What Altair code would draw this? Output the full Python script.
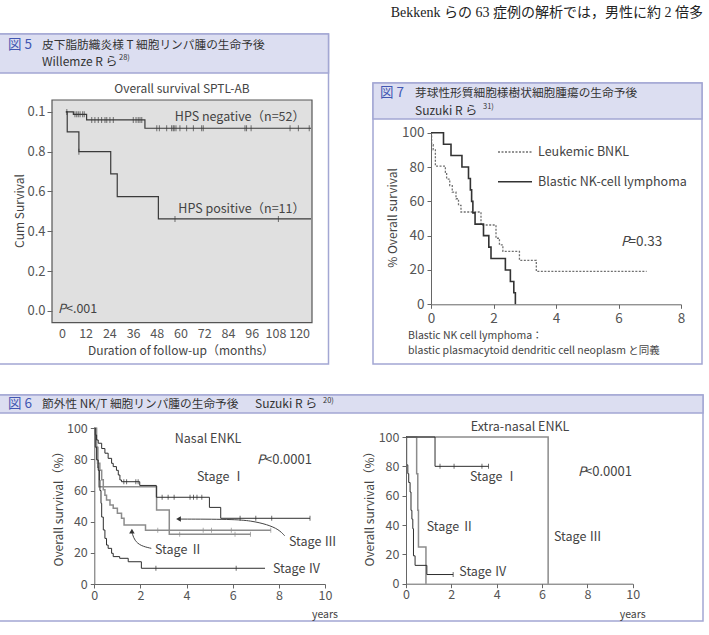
import altair as alt
import pandas as pd

FONT = "Noto Sans CJK JP"
SERIF = "Liberation Serif, Noto Sans CJK JP"
INK = "#444444"
LAB = "#555555"
AXIS = "#666666"
BLACK = "#2e2e2e"
GRAY = "#8c8c8c"
BORDER = "#a3a7d3"
BAND = "#dcdef1"
BLUE = "#4257b2"
HEAD = "#333333"

# ---- Fig 5: SPTL-AB, overall survival (months, cumulative survival) ----
hps_neg_t = [2, 5.8, 12.5, 42, 126]
hps_neg_s = [1.0, 0.988, 0.96, 0.918, 0.918]
hps_neg_cens = [2.5, 6.6, 7.5, 8.3, 9.2, 10.5, 11.3, 15.1, 16.7, 18.4, 20.1, 21.8,
                22.7, 24.3, 26, 36.1, 37.5, 38.6, 39.5, 40.4, 48, 49.3, 53, 55.5,
                56.3, 56.8, 57.7, 59.7, 63.1, 66.5, 70.7, 71.5, 92.6, 93.4, 95.7,
                115.4, 119.6, 125.1]
hps_pos_t = [2, 2.7, 8.6, 24.7, 28, 48.8, 126]
hps_pos_s = [1.0, 0.90, 0.80, 0.688, 0.574, 0.462, 0.462]
hps_pos_cens = [8.6, 57.2, 109.5]
f5_ticks_x = [0, 12, 24, 36, 48, 60, 72, 84, 96, 108, 120]
f5_ticks_y = [0, 0.2, 0.4, 0.6, 0.8, 1.0]

# ---- Fig 7: BPDCN (years, % overall survival) ----
leuk_t = [0, 0.02, 0.07, 0.14, 0.46, 0.5, 0.6, 0.68, 0.8, 0.88, 0.96, 1.6, 2.08,
          2.19, 2.3, 2.83, 3.37, 6.9]
leuk_s = [100, 93, 90, 80.5, 76.9, 73, 69.2, 65.4, 61.5, 57.7, 53.8, 46.2, 38.5,
          34.6, 30.8, 25.6, 19.2, 19.2]
bnk_t = [0, 0.40, 0.64, 0.99, 1.2, 1.26, 1.3, 1.34, 1.41, 1.68, 1.85, 1.92, 2.38,
         2.54, 2.65, 2.7]
bnk_s = [100, 93.3, 86.7, 80, 73.3, 66.7, 60, 53.3, 46.7, 40, 33.3, 26.7, 20,
         13.3, 6.7, 0]
f7_ticks_x = [0, 2, 4, 6, 8]
pct_ticks = [0, 20, 40, 60, 80, 100]

# ---- Fig 6 left: nasal ENKL by stage (years, %) ----
n1_t = [0, 0.04, 0.1, 0.17, 0.32, 0.46, 0.6, 0.75, 0.82, 0.96, 1.04, 1.11, 1.18,
        1.97, 2.69, 4.99, 5.48, 9.35]
n1_s = [100, 95.7, 92.5, 90.4, 87, 84, 80.7, 77.5, 75.4, 73, 70, 66.8, 65.7,
        63.3, 55.7, 49.2, 42.2, 42.2]
n1_cens = [1.28, 1.4, 1.8, 1.9, 2.94, 3.2, 3.46, 4.15, 4.3, 4.45, 4.66, 6.32, 7.0,
           7.69, 9.35]
n2_t = [0, 0.06, 0.14, 0.24, 0.32, 0.39, 0.46, 0.53, 0.68, 0.82, 1.0, 1.18, 1.29,
        2.22, 7.65]
n2_s = [100, 88, 77.5, 73, 67, 60.5, 57, 54, 50.7, 48.6, 45.4, 42.2, 37.9, 34.5,
        34.5]
n2_cens = [2.75, 4.72, 5.08, 5.94, 7.65]
n3_t = [0, 0.1, 0.15, 0.2, 2.7, 3.25, 6.77]
n3_s = [100, 87.5, 75, 62.5, 47.5, 32, 32]
n3_cens = [3.7, 6.1, 6.77]
n4_t = [0, 0.04, 0.1, 0.17, 0.22, 0.245, 0.29, 0.32, 0.39, 0.46, 0.53, 0.6, 0.75,
        0.82, 1.1, 1.47, 2.04, 7.4]
n4_s = [100, 88, 79.7, 73, 66.8, 60, 51.8, 43, 34.7, 29.3, 25, 22.9, 19.7, 17.6,
        16.5, 14.3, 10.1, 10.1]
n4_cens = [2.67, 6.15]
# arrows pointing from stage labels to their curves
arrow3_t = [8.25, 8.0, 7.5, 6.8, 6.0, 3.65]
arrow3_s = [31, 35, 38.2, 40.6, 41.6, 41.7]
arrow2_t = [2.47, 2.0, 1.75, 1.65, 1.63]
arrow2_s = [22.9, 24.5, 28, 32, 34]
f6_ticks_x = [0, 2, 4, 6, 8, 10]

# ---- Fig 6 right: extra-nasal ENKL by stage (years, %) ----
e1_t = [0, 1.28, 3.64]
e1_s = [100, 80, 80]
e1_cens = [1.5, 2.12, 3.35, 3.64]
e2_t = [0, 0.47, 0.52, 0.55, 0.88]
e2_s = [100, 75, 50, 25, 0]
e3_t = [0, 6.27]
e3_s = [100, 0]
e4_t = [0, 0.03, 0.08, 0.12, 0.18, 0.22, 0.26, 0.3, 0.33, 0.4, 0.92, 2.08]
e4_s = [100, 81, 75, 69, 62.5, 50, 44, 37.5, 19, 12.5, 6.25, 6.25]
e4_cens = [2.08]

ONE = pd.DataFrame({"k": [0]})


def surv_at(ts, ss, x):
    v = ss[0]
    for t, s in zip(ts, ss):
        if t <= x:
            v = s
    return v


def curves(*items):
    frames = []
    for name, ts, ss in items:
        frames.append(pd.DataFrame({"t": ts, "s": ss, "curve": name, "i": range(len(ts))}))
    return pd.concat(frames, ignore_index=True)


def censored(*items):
    frames = []
    for name, cens, ts, ss in items:
        frames.append(pd.DataFrame({"t": cens, "s": [surv_at(ts, ss, c) for c in cens],
                                    "curve": name}))
    return pd.concat(frames, ignore_index=True)


def axis(orient, offset, values, tick=4, pad=3, size=12, domain=True, expr=None):
    kw = dict(orient=orient, offset=offset, values=values, tickSize=tick,
              ticks=tick > 0, labelPadding=pad, labelFontSize=size, domain=domain,
              grid=False, title=None, labelFlush=False, labelOverlap=False,
              labelColor=LAB, tickColor=AXIS, domainColor=AXIS, labelFont=FONT,
              tickWidth=1, domainWidth=1, zindex=2)
    if expr:
        kw["labelExpr"] = expr
    return alt.Axis(**kw)


def encodings(xdom, xrng, ydom, yrng, xaxis, yaxis):
    X = alt.X("t:Q", scale=alt.Scale(domain=xdom, range=xrng, nice=False, zero=False), axis=xaxis)
    Y = alt.Y("s:Q", scale=alt.Scale(domain=ydom, range=yrng, nice=False, zero=False), axis=yaxis)
    return X, Y


def steps(df, X, Y, color, width, dash=None):
    kw = dict(interpolate="step-after", color=color, strokeWidth=width)
    if dash:
        kw["strokeDash"] = dash
    return alt.Chart(df).mark_line(**kw).encode(x=X, y=Y, detail="curve:N", order="i:Q")


def ticks(df, X, Y, color, size=6):
    return alt.Chart(df).mark_tick(orient="vertical", color=color, size=size,
                                   thickness=1).encode(x=X, y=Y)


def box(x1, y1, x2, y2, fill, stroke=None, sw=1.0):
    kw = dict(fill=fill, strokeWidth=sw)
    if stroke:
        kw["stroke"] = stroke
    return alt.Chart(ONE).mark_rect(**kw).encode(
        x=alt.value(x1), x2=alt.value(x2), y=alt.value(y1), y2=alt.value(y2))


def label(txt, x, y, size=12, align="left", color=INK, angle=0, style="normal",
          font=FONT, baseline="middle"):
    return alt.Chart(ONE).mark_text(text=txt, align=align, baseline=baseline,
                                    fontSize=size, color=color, angle=angle,
                                    fontStyle=style, font=font).encode(
        x=alt.value(x), y=alt.value(y))


def legend_line(x1, x2, y, color, width, dash=None):
    kw = dict(color=color, strokeWidth=width)
    if dash:
        kw["strokeDash"] = dash
    return alt.Chart(ONE).mark_rule(**kw).encode(
        x=alt.value(x1), x2=alt.value(x2), y=alt.value(y))


# ---------------- Fig 5 panel ----------------
X5, Y5 = encodings([-5, 126.5], [52, 312], [-0.06, 1.06], [322.7, 100],
                   axis("bottom", -312.3, f5_ticks_x, tick=0, pad=5, size=12.5, domain=False),
                   axis("left", -52, f5_ticks_y, tick=5, pad=2, size=13, domain=False,
                        expr="datum.value == 1 ? '0.1' : format(datum.value, '.1f')"))
frame5 = pd.DataFrame({"t": [-5], "t2": [126.5], "s": [-0.06], "s2": [1.06]})
fig5 = alt.layer(
    alt.Chart(frame5).mark_rect(fill="#e0e0e0", stroke="#555555", strokeWidth=1.2).encode(
        x=X5, x2="t2", y=Y5, y2="s2"),
    steps(curves(("neg", hps_neg_t, hps_neg_s), ("pos", hps_pos_t, hps_pos_s)), X5, Y5, "#3a3a3a", 1.2),
    ticks(censored(("neg", hps_neg_cens, hps_neg_t, hps_neg_s),
                   ("pos", hps_pos_cens, hps_pos_t, hps_pos_s)), X5, Y5, "#3a3a3a", 6),
)

# ---------------- Fig 7 panel ----------------
X7, Y7 = encodings([0, 8], [431, 681], [0, 100], [304.3, 132.7],
                   axis("bottom", -330.7, f7_ticks_x, tick=4, pad=3, size=13.5),
                   axis("left", -431, pct_ticks, tick=4, pad=3, size=13.5))
fig7 = alt.layer(
    steps(curves(("leuk", leuk_t, leuk_s)), X7, Y7, "#707070", 1.3, dash=[2, 1.5]),
    steps(curves(("bnk", bnk_t, bnk_s)), X7, Y7, "#333333", 1.6),
)

# ---------------- Fig 6 nasal panel ----------------
XN, YN = encodings([0, 10], [94.3, 325], [0, 100], [584, 428.3],
                   axis("bottom", -51, f6_ticks_x, tick=4, pad=1, size=12.5),
                   axis("left", -94.3, pct_ticks, tick=4, pad=3, size=12.5))
nasal = alt.layer(
    steps(curves(("II", n2_t, n2_s), ("III", n3_t, n3_s)), XN, YN, GRAY, 1.5),
    steps(curves(("I", n1_t, n1_s), ("IV", n4_t, n4_s)), XN, YN, BLACK, 1.0),
    ticks(censored(("II", n2_cens, n2_t, n2_s), ("III", n3_cens, n3_t, n3_s)), XN, YN, GRAY, 5),
    ticks(censored(("I", n1_cens, n1_t, n1_s), ("IV", n4_cens, n4_t, n4_s)), XN, YN, BLACK, 5),
    alt.Chart(curves(("a3", arrow3_t, arrow3_s), ("a2", arrow2_t, arrow2_s))).mark_line(
        interpolate="basis", color="#444444", strokeWidth=1).encode(
        x=XN, y=YN, detail="curve:N", order="i:Q"),
    alt.Chart(pd.DataFrame({"t": [arrow3_t[-1]], "s": [arrow3_s[-1]]})).mark_point(
        shape="triangle-left", filled=True, size=30, color="#333333", opacity=1).encode(x=XN, y=YN),
    alt.Chart(pd.DataFrame({"t": [arrow2_t[-1]], "s": [arrow2_s[-1]]})).mark_point(
        shape="triangle-up", filled=True, size=30, color="#333333", opacity=1).encode(x=XN, y=YN),
)

# ---------------- Fig 6 extra-nasal panel ----------------
XE, YE = encodings([0, 10], [406, 632.7], [0, 100], [583.7, 437],
                   axis("bottom", -51.3, f6_ticks_x, tick=4, pad=1, size=12.5),
                   axis("left", -406, pct_ticks, tick=4, pad=3, size=12.5))
extra = alt.layer(
    steps(curves(("III", e3_t, e3_s), ("II", e2_t, e2_s)), XE, YE, GRAY, 1.5),
    steps(curves(("I", e1_t, e1_s), ("IV", e4_t, e4_s)), XE, YE, BLACK, 1.0),
    ticks(censored(("I", e1_cens, e1_t, e1_s), ("IV", e4_cens, e4_t, e4_s)), XE, YE, BLACK, 5),
)

# ---------------- frames and header bands ----------------
frames = [
    box(-2, 34, 328.5, 364, "white", BORDER, 1.5),
    box(-2, 34, 328.5, 73, BAND, BORDER, 1.5),
    box(373, 83, 702, 364, "white", BORDER, 1.5),
    box(373, 83, 702, 119, BAND, BORDER, 1.5),
    box(-2, 395, 703, 621, "white", BORDER, 1.5),
    box(-2, 395, 703, 413, BAND, BORDER, 1.5),
]

texts = [
    label("Bekkenk らの 63 症例の解析では，男性に約 2 倍多", 703, 13, size=14,
          align="right", color="#222222", font=SERIF),
    # Fig 5 header and annotations
    label("図 5", 8, 45, size=13.5, color=BLUE),
    label("皮下脂肪織炎様 T 細胞リンパ腫の生命予後", 42, 45, size=11.7, color=HEAD),
    label("Willemze R ら", 42, 62, size=12, color=HEAD),
    label("28)", 119, 58, size=7.5, color=HEAD),
    label("Overall survival SPTL-AB", 182, 89, size=12, align="center"),
    label("HPS negative（n=52）", 305, 117, size=12.5, align="right"),
    label("HPS positive（n=11）", 305, 209, size=12.5, align="right"),
    label("P", 58, 309, size=12.5, style="italic"),
    label("<.001", 66, 309, size=12.5),
    label("Cum Survival", 20, 211, size=12, angle=270, align="center"),
    label("Duration of follow-up（months）", 181, 351, size=12, align="center"),
    # Fig 7 header and annotations
    label("図 7", 380, 93, size=13.5, color=BLUE),
    label("芽球性形質細胞様樹状細胞腫瘍の生命予後", 415, 93, size=11.7, color=HEAD),
    label("Suzuki R ら", 415, 110.7, size=12, color=HEAD),
    label("31)", 483, 107, size=7.5, color=HEAD),
    label("% Overall survival", 393, 218, size=12, angle=270, align="center"),
    label("Leukemic BNKL", 538, 152, size=12.5),
    label("Blastic NK-cell lymphoma", 538, 182, size=12.5),
    label("P", 621, 242, size=13.5, style="italic"),
    label("=0.33", 628.5, 242, size=13.5),
    label("Blastic NK cell lymphoma：", 408, 336, size=10.5),
    label("blastic plasmacytoid dendritic cell neoplasm と同義", 408, 350.5, size=10.5),
    # Fig 6 header and annotations
    label("図 6", 8, 404, size=13.5, color=BLUE),
    label("節外性 NK/T 細胞リンパ腫の生命予後", 42, 404, size=11.7, color=HEAD),
    label("Suzuki R ら", 255, 404, size=12, color=HEAD),
    label("20)", 323, 400.5, size=7.5, color=HEAD),
    label("Nasal ENKL", 208, 439, size=12.5, align="center"),
    label("P", 257, 460, size=13, style="italic"),
    label("<0.0001", 265, 460, size=13),
    label("Stage Ⅰ", 197, 477, size=12.5),
    label("Stage Ⅲ", 289, 541.7, size=12.5),
    label("Stage Ⅱ", 155, 550, size=12.5),
    label("Stage Ⅳ", 273, 569.3, size=12.5),
    label("Overall survival（%）", 59, 506, size=12, angle=270, align="center"),
    label("years", 325, 614.5, size=10.5, align="center"),
    label("Extra-nasal ENKL", 520, 427.3, size=12.5, align="center"),
    label("P", 578, 471.7, size=13, style="italic"),
    label("<0.0001", 585, 471.7, size=13),
    label("Stage Ⅰ", 470, 477.3, size=12.5),
    label("Stage Ⅱ", 426.7, 526.7, size=12.5),
    label("Stage Ⅲ", 554, 537.3, size=12.5),
    label("Stage Ⅳ", 459.3, 571.7, size=12.5),
    label("Overall survival（%）", 370, 506, size=12, angle=270, align="center"),
    label("years", 632.7, 614.5, size=10.5, align="center"),
    # Fig 7 legend keys
    legend_line(498, 532, 152, "#707070", 1.3, dash=[2, 1.5]),
    legend_line(498, 532, 181.7, "#333333", 1.6),
]

chart = alt.layer(*frames, fig5, fig7, nasal, extra, *texts).resolve_scale(
    x="independent", y="independent"
).properties(
    width=709, height=635, padding=0, background="white",
    autosize=alt.AutoSizeParams(type="none"),
).configure_view(stroke=None)

chart.save("out.html", embed_options={"renderer": "svg", "actions": False})
